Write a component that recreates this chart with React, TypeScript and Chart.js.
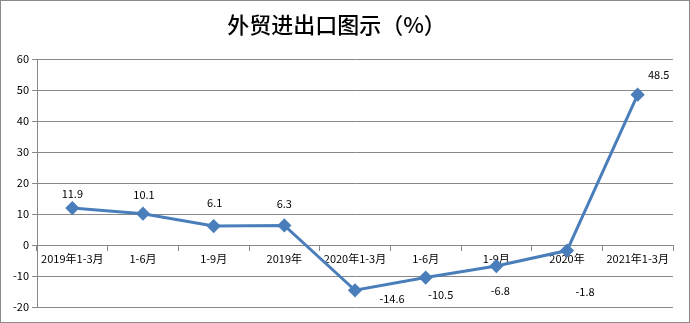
import React, { useEffect, useRef } from "react";
import { Chart, registerables } from "chart.js";

Chart.register(...registerables);

const categories = [
  "2019年1-3月",
  "1-6月",
  "1-9月",
  "2019年",
  "2020年1-3月",
  "1-6月",
  "1-9月",
  "2020年",
  "2021年1-3月",
];
const values = [11.9, 10.1, 6.1, 6.3, -14.6, -10.5, -6.8, -1.8, 48.5];
const yTicks = { min: -20, max: 60, step: 10 };
const titleText = "外贸进出口图示（%）";

// label offsets (style): [dx, dy] from each point
const labelOffsets: [number, number][] = [
  [0, -14],
  [1, -19],
  [1, -23],
  [0, -22],
  [37, 9],
  [15, 17],
  [4, 25],
  [18, 41],
  [21, -20],
];

const FONT = "'Noto Sans CJK SC', 'Noto Sans', sans-serif";
const GRID = "#888888";
const BLUE = "#4A7EBB";

const borderPlugin = {
  id: "outerBorder",
  beforeDraw(chart: any) {
    const ctx = chart.ctx;
    ctx.save();
    ctx.fillStyle = "#ffffff";
    ctx.fillRect(0, 0, chart.width, chart.height);
    ctx.strokeStyle = "#8a8a8a";
    ctx.lineWidth = 1;
    ctx.strokeRect(0.5, 0.5, chart.width - 1, chart.height - 1);
    ctx.restore();
  },
};

const labelPlugin = {
  id: "valueLabels",
  afterDatasetsDraw(chart: any) {
    const ctx = chart.ctx;
    const meta = chart.getDatasetMeta(0);
    ctx.save();
    ctx.font = `11px ${FONT}`;
    ctx.fillStyle = "#000000";
    ctx.textAlign = "center";
    ctx.textBaseline = "middle";
    meta.data.forEach((pt: any, i: number) => {
      const [dx, dy] = labelOffsets[i] || [0, -15];
      ctx.fillText(String(values[i]), pt.x + dx, pt.y + dy);
    });
    ctx.restore();
  },
};

export default function App() {
  const ref = useRef<HTMLCanvasElement>(null);
  useEffect(() => {
    document.body.style.margin = "0";
    const chart = new Chart(ref.current!, {
      type: "line",
      data: {
        labels: categories,
        datasets: [
          {
            data: values,
            borderColor: BLUE,
            backgroundColor: BLUE,
            borderWidth: 3,
            pointStyle: "rectRot",
            pointRadius: 5,
            pointBackgroundColor: BLUE,
            pointBorderColor: BLUE,
            tension: 0,
          },
        ],
      },
      options: {
        animation: false,
        responsive: false,
        devicePixelRatio: 1,
        layout: { padding: { left: 0, right: 17, top: 0, bottom: 16 } },
        plugins: {
          legend: { display: false },
          tooltip: { enabled: false },
          title: {
            display: true,
            text: titleText,
            color: "#000000",
            font: { family: FONT, size: 22, weight: "500" as any },
            padding: { top: 11, bottom: 21.6 },
          },
        },
        scales: {
          x: {
            type: "category",
            position: { y: 0 } as any,
            offset: true,
            grid: {
              offset: true,
              drawOnChartArea: false,
              drawTicks: true,
              tickLength: 5,
              color: GRID,
            },
            border: { display: true, color: GRID },
            ticks: {
              color: "#000000",
              font: { family: FONT, size: 11 },
              maxRotation: 0,
              autoSkip: false,
              padding: 2,
            },
          },
          y: {
            min: yTicks.min,
            max: yTicks.max,
            afterFit(scale: any) {
              scale.width = 37;
            },
            grid: { color: GRID, tickLength: 5 },
            border: { display: true, color: GRID },
            ticks: {
              stepSize: yTicks.step,
              color: "#000000",
              font: { family: FONT, size: 11 },
              padding: 3,
            },
          },
        },
      },
      plugins: [borderPlugin, labelPlugin],
    });
    return () => chart.destroy();
  }, []);
  return (
    <div style={{ width: 690, height: 323 }}>
      <canvas ref={ref} width={690} height={323} style={{ display: "block" }} />
    </div>
  );
}
